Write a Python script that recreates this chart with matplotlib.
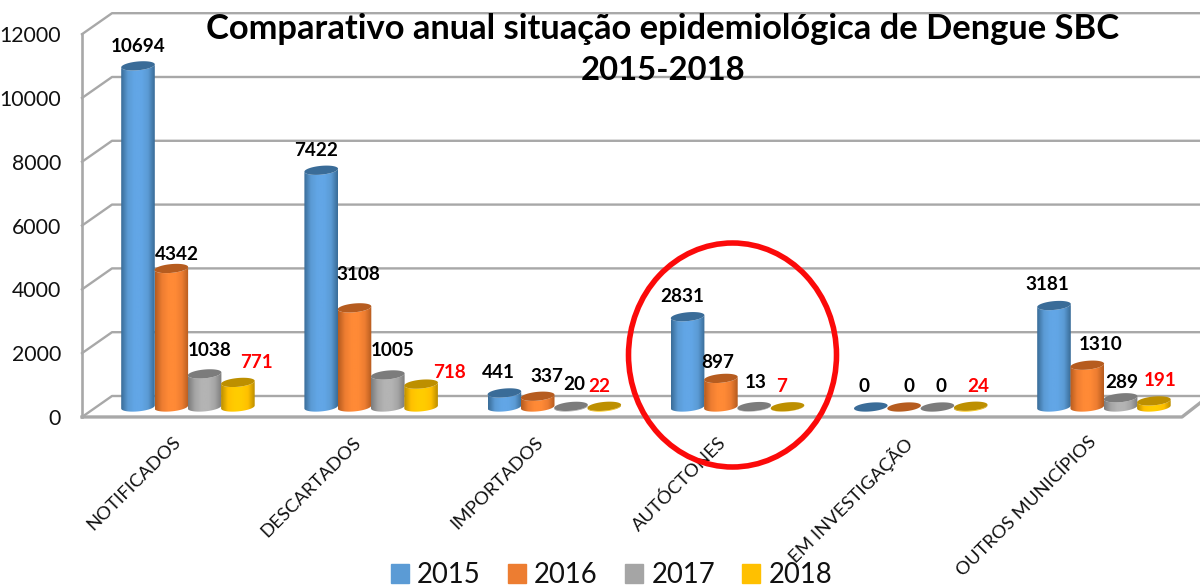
import numpy as np
import matplotlib
matplotlib.use("Agg")
import matplotlib.pyplot as plt
from matplotlib.colors import LinearSegmentedColormap
from matplotlib.patches import Polygon, Patch, Ellipse

categories = ["NOTIFICADOS", "DESCARTADOS", "IMPORTADOS", "AUTÓCTONES", "EM INVESTIGAÇÃO", "OUTROS MUNICÍPIOS"]
years = ["2015", "2016", "2017", "2018"]
v2015 = [10694, 7422, 441, 2831, 0, 3181]
v2016 = [4342, 3108, 337, 897, 0, 1310]
v2017 = [1038, 1005, 20, 13, 0, 289]
v2018 = [771, 718, 22, 7, 24, 191]
series = [v2015, v2016, v2017, v2018]
yticks = [0, 2000, 4000, 6000, 8000, 10000, 12000]

colors = ["#5b9bd5", "#ed7d31", "#a5a5a5", "#ffc000"]
light = ["#62a6e6", "#ff8a36", "#b4b4b4", "#ffcc00"]
dark = ["#3a6c98", "#b65c1f", "#7c7c7c", "#bd8f00"]
text_colors = ["black", "black", "black", "red"]

# where the data labels sit (picture pixels, one row per year)
label_x = [[138, 316, 498, 682, 864, 1047],
           [177, 358, 547, 718, 909, 1101],
           [210, 393, 574, 756, 941, 1122],
           [256, 450, 599, 782, 978, 1160]]
label_y = [[47, 150, 373, 296, 387, 285],
           [254, 275, 376, 362, 387, 345],
           [350, 351, 384, 382, 387, 382],
           [362, 373, 386, 386, 386, 380]]

W, H = 1200, 588
BASE = 407      # pixel row of value 0 at bar centre
SCALE = 0.0319  # pixels per case
STEP = 183.2    # pixels per category
X0 = 138        # pixel column of first bar
BAR = 33.3      # pixels between bars

fig = plt.figure(figsize=(12, 5.88), dpi=100)
plt.rcParams["font.family"] = ["Lato", "DejaVu Sans"]
ax = fig.add_axes([0, 0, 1, 1])
ax.set_xlim(-X0 / STEP, (W - X0) / STEP)
ax.set_ylim((BASE - H) / SCALE, BASE / SCALE)
ax.axis("off")


def px(x, y):
    return (x - X0) / STEP, (BASE - y) / SCALE


# walls
grid = "#a8a8a8"
back = 345
front = -313
xf = px(82, 0)[0]
xb = px(112, 0)[0]
for t in yticks:
    ax.plot([xf, xb, ax.get_xlim()[1]], [t + front, t + back, t + back], color=grid, lw=1.7, zorder=1)
    x, y = px(61, BASE - (t + front) * SCALE + 2)
    ax.text(x, y, str(t), ha="right", va="center", fontsize=15.3, color="#111111", zorder=6)
ax.plot([xf, xf], [front, 12000 + front], color=grid, lw=1.9, zorder=1)
ax.plot([xf, px(1182, 0)[0], px(1200, 0)[0]], [front, front, front + 14 / SCALE], color=grid, lw=2.4, zorder=1)

# cylinders
a = 16.8 / STEP
b = 4.4 / SCALE
tilt = 1.5 / SCALE
t_low = np.linspace(np.pi, 2 * np.pi, 40)
t_all = np.linspace(0, 2 * np.pi, 80)
z = 2.0
for j, vals in enumerate(series):
    cmap = LinearSegmentedColormap.from_list("c", [dark[j], colors[j], light[j], light[j], colors[j], dark[j]])
    for i, v in enumerate(vals):
        cx = i + j * BAR / STEP
        xs = cx + a * np.cos(t_low)
        ys = b * np.sin(t_low) + tilt * np.cos(t_low)
        top_x = cx + a * np.cos(t_all)
        top_y = v + b * np.sin(t_all) + tilt * np.cos(t_all)
        body = np.column_stack([np.r_[xs, xs[::-1]], np.r_[ys, ys[::-1] + v]])
        im = ax.imshow(np.linspace(0, 1, 64).reshape(1, -1), cmap=cmap, aspect="auto",
                       extent=[cx - a, cx + a, -b - tilt, v + b + tilt], zorder=z, interpolation="bilinear")
        im.set_clip_path(Polygon(body, transform=ax.transData))
        ax.add_patch(Polygon(np.column_stack([top_x, top_y]), closed=True, fc=dark[j], ec="none", zorder=z + 0.01))
        z += 0.001
ax.set_xlim(-X0 / STEP, (W - X0) / STEP)
ax.set_ylim((BASE - H) / SCALE, BASE / SCALE)

# data labels
for j, vals in enumerate(series):
    for i, v in enumerate(vals):
        x, y = px(label_x[j][i], label_y[j][i])
        ax.text(x, y, str(v), ha="center", va="center", fontsize=13.6, fontweight="bold",
                color=text_colors[j], zorder=6)

# category labels
label_end = [172, 353, 535, 718, 903, 1088]
for name, xe in zip(categories, label_end):
    x, y = px(xe, 434)
    ax.text(x, y, name, rotation=45, rotation_mode="anchor", ha="right", va="top",
            fontsize=13.3, color="#111111", zorder=6)

# red circle
cx, cy = px(732.5, 355)
ax.add_patch(Ellipse((cx, cy), 208 / STEP, 224 / SCALE, fc="none", ec="#fb0a0a", lw=4, zorder=7))

# title
x, y = px(663, 29)
ax.text(x, y, "Comparativo anual situação epidemiológica de Dengue SBC", ha="center", va="center",
        fontsize=24.8, fontweight="bold", color="black", zorder=6)
x, y = px(663, 71)
ax.text(x, y, "2015-2018", ha="center", va="center", fontsize=23.7, fontweight="bold", color="black", zorder=6)

handles = [Patch(color=c, label=l) for c, l in zip(colors, years)]
fig.legend(handles=handles, ncol=4, loc="lower center", bbox_to_anchor=(0.5095, -0.024), frameon=False,
           fontsize=19.8, handlelength=0.66, handleheight=0.66, handletextpad=0.3,
           columnspacing=0.98, borderpad=0, labelcolor="#111111")

fig.savefig("out.png", dpi=100)
